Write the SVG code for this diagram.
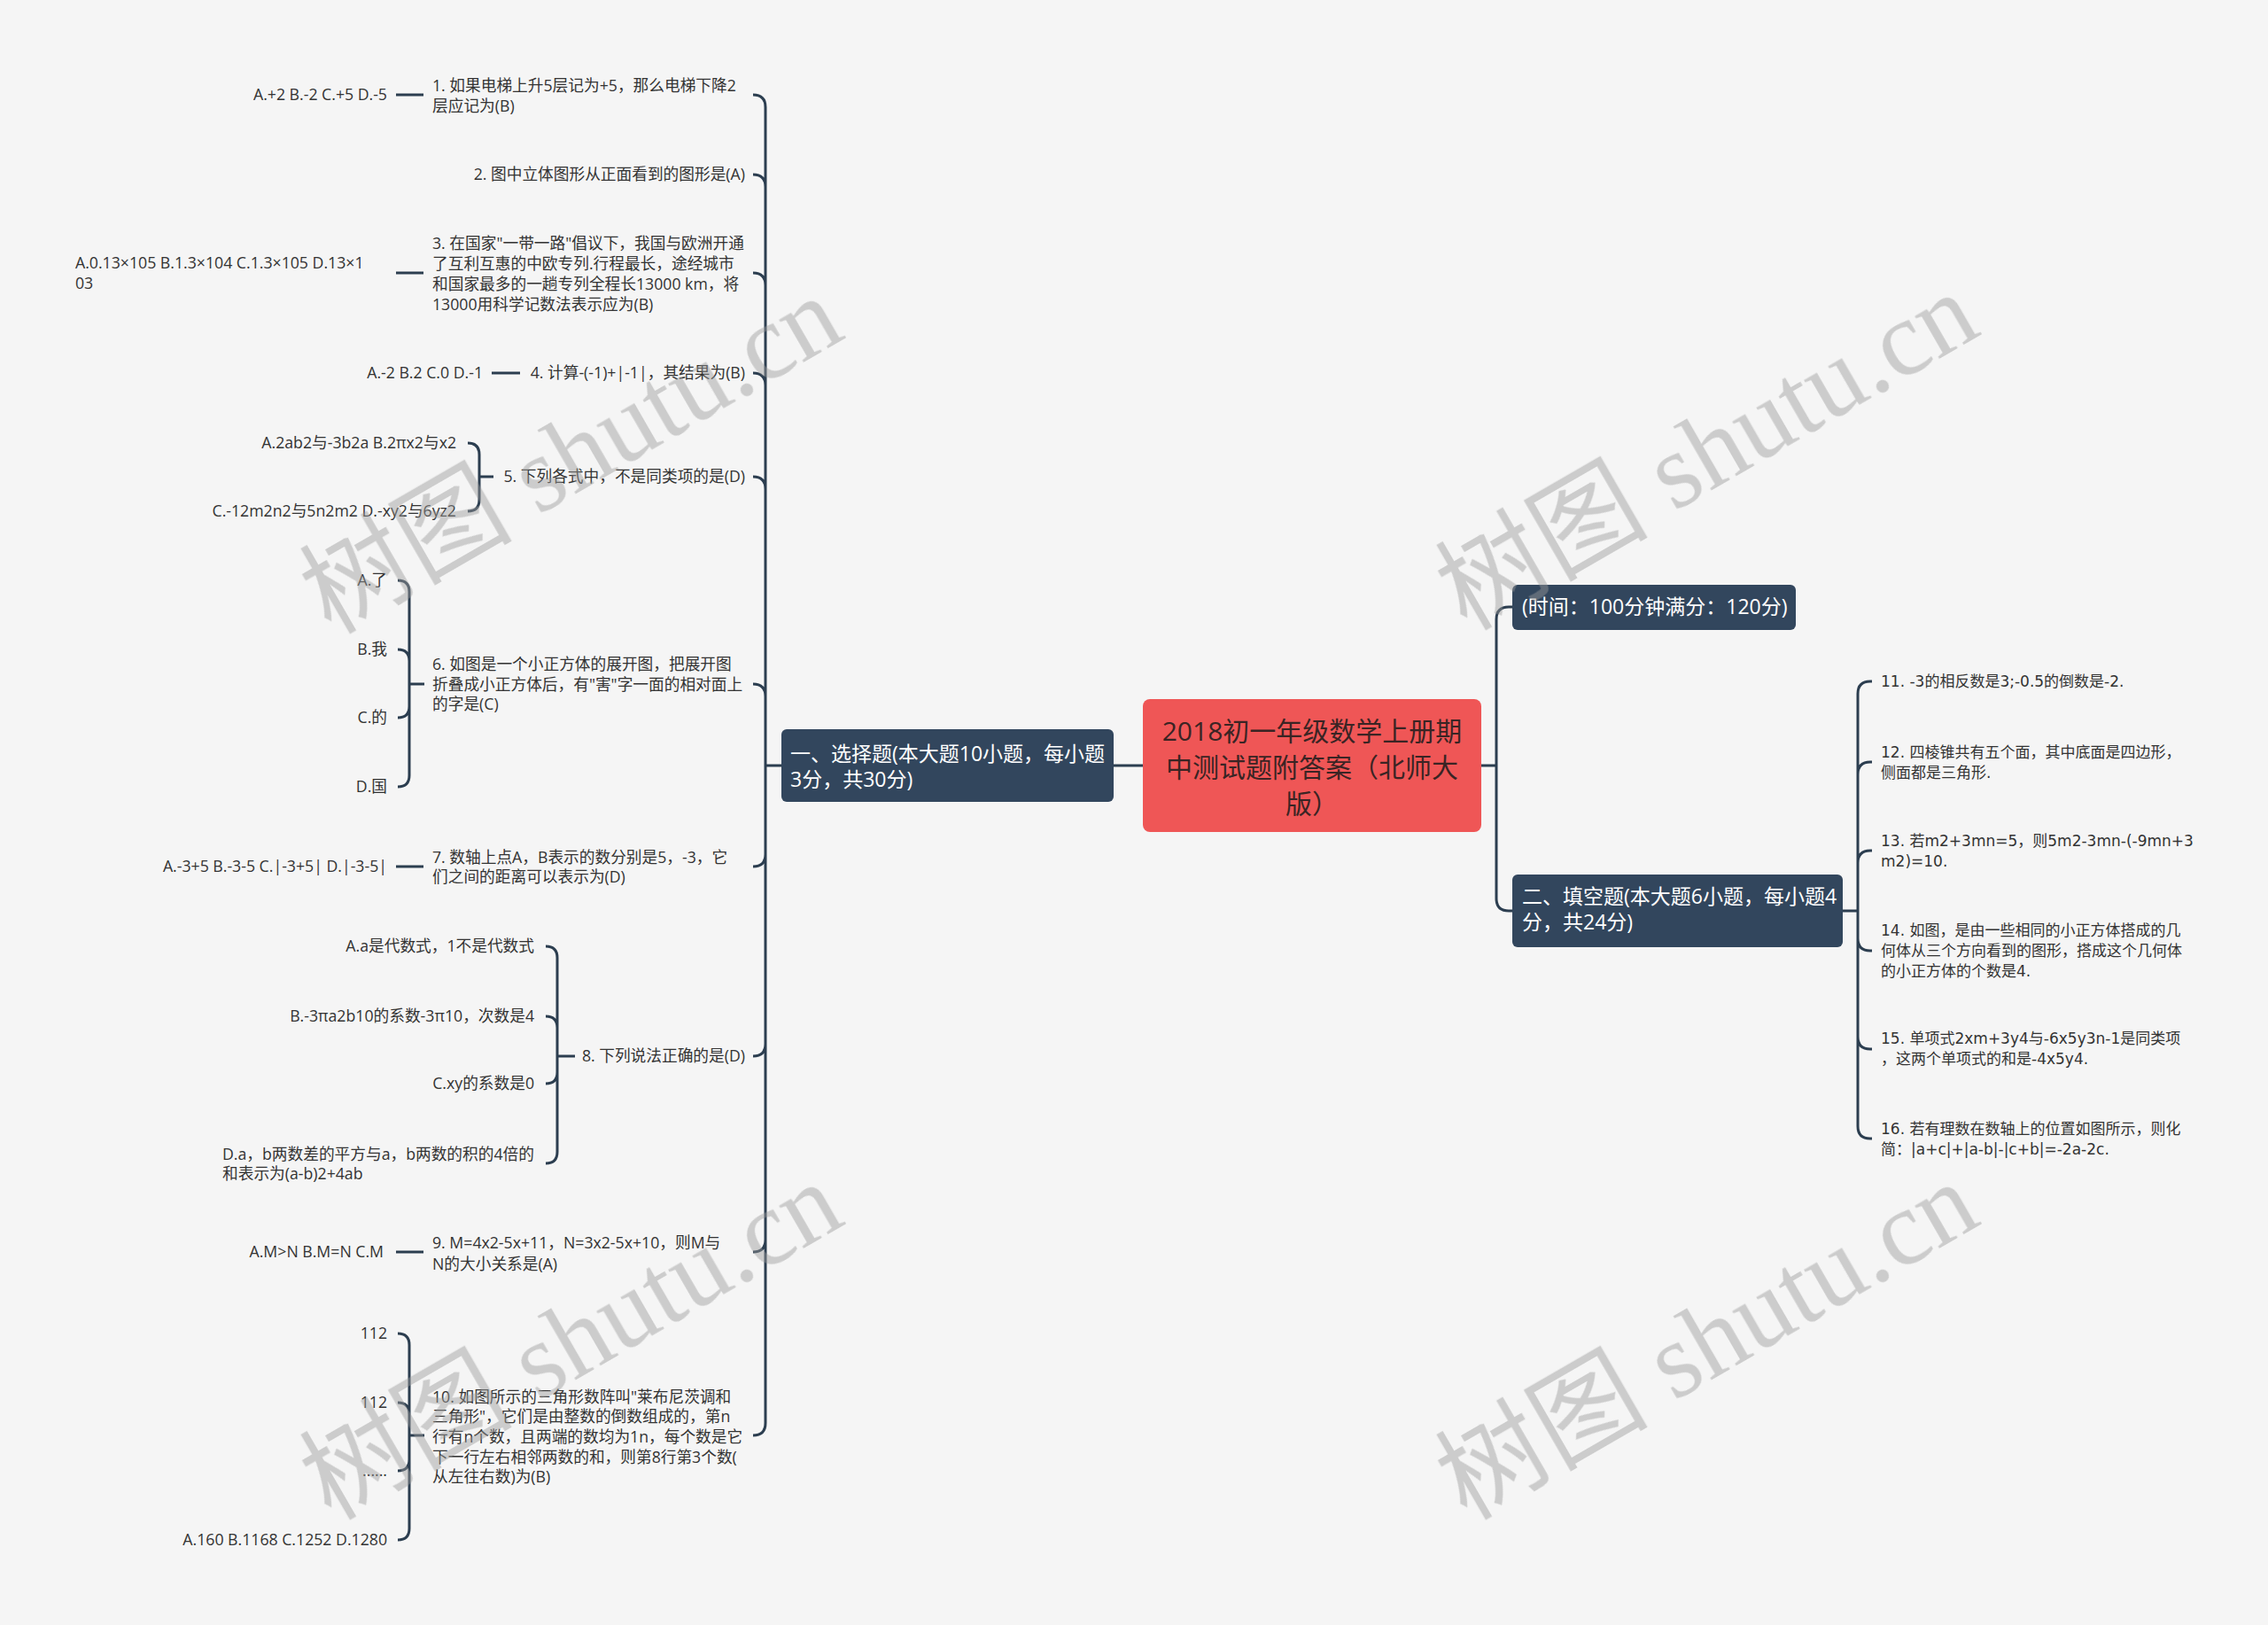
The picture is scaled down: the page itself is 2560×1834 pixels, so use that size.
<svg xmlns="http://www.w3.org/2000/svg" width="2560" height="1834" viewBox="0 0 2560 1834">
<style>
.lt{font-family:"Open Sans","Noto Sans CJK SC",sans-serif;font-size:17.7px;fill:#333}
.rt{font-family:"DejaVu Sans","Noto Sans CJK SC",sans-serif;font-size:17px;fill:#333}
.hd{font-family:"Open Sans","Noto Sans CJK SC",sans-serif;font-size:23px;fill:#fff}
.ct{font-family:"Open Sans","Noto Sans CJK SC",sans-serif;font-size:30px;fill:#3a2424;text-anchor:middle}
.e{text-anchor:end}
.dark{fill:#32465d}
.conn{fill:none;stroke:#2c3e50;stroke-width:3}
.wm{font-size:120px;fill:#9a9a9a;opacity:.45;text-anchor:middle}
.wc{font-family:"Noto Sans CJK SC",sans-serif}
.ws{font-family:"Liberation Serif",serif}
</style>
<rect width="2560" height="1834" fill="#f5f5f5"/>
<g id="connectors" class="conn">
<path d="M1290 864H1257M882 864H864"/>
<path d="M864 864V121Q864 107 850 107M864 864V211Q864 197 850 197M864 864V322Q864 308 850 308M864 864V435Q864 421 850 421M864 864V552Q864 538 850 538M864 864V786Q864 772 850 772M864 864V964Q864 978 850 978M864 864V1178Q864 1192 850 1192M864 864V1399Q864 1413 850 1413M864 864V1606Q864 1620 850 1620"/>
<path d="M447 107H478M447 308H478M555 421H587M447 978H478M447 1413H478"/>
<path d="M557 538H541M541 538V513Q541 500 528 500M541 538V564Q541 577 528 577"/>
<path d="M479 772H462M462 772V668Q462 655 449 655M462 772V746Q462 733 449 733M462 772V797Q462 810 449 810M462 772V875Q462 888 449 888"/>
<path d="M649 1192H629M629 1192V1081Q629 1068 616 1068M629 1192V1160Q629 1147 616 1147M629 1192V1210Q629 1223 616 1223M629 1192V1300Q629 1313 616 1313"/>
<path d="M479 1620H462M462 1620V1518Q462 1505 449 1505M462 1620V1596Q462 1583 449 1583M462 1620V1647Q462 1660 449 1660M462 1620V1725Q462 1738 449 1738"/>
<path d="M1672 864H1689M1689 864V699Q1689 685 1703 685H1707M1689 864V1014Q1689 1028 1703 1028H1707"/>
<path d="M2080 1028H2097M2097 1028V783Q2097 769 2111 769H2113M2097 1028V874Q2097 860 2111 860H2113M2097 1028V974Q2097 960 2111 960H2113M2097 1028V1059Q2097 1073 2111 1073H2113M2097 1028V1170Q2097 1184 2111 1184H2113M2097 1028V1271Q2097 1285 2111 1285H2113"/>
</g>
<g id="root">
<rect x="1290" y="789" width="382" height="150" rx="8" fill="#ef5656"/>
<text class="ct"><tspan x="1481" y="836">2018初一年级数学上册期</tspan><tspan x="1481" y="877">中测试题附答案（北师大</tspan><tspan x="1481" y="918">版）</tspan></text>
</g>
<g id="sec1">
<rect class="dark" x="882" y="823" width="375" height="82" rx="6"/>
<text class="hd"><tspan x="892" y="859">一、选择题(本大题10小题，每小题</tspan><tspan x="892" y="888">3分，共30分)</tspan></text>
</g>
<g id="time">
<rect class="dark" x="1707" y="660" width="320" height="51" rx="6"/>
<text class="hd" x="1718" y="693">(时间：100分钟满分：120分)</text>
</g>
<g id="sec2">
<rect class="dark" x="1707" y="987" width="373" height="82" rx="6"/>
<text class="hd"><tspan x="1718" y="1020">二、填空题(本大题6小题，每小题4</tspan><tspan x="1718" y="1049">分，共24分)</tspan></text>
</g>
<g id="q1"><text class="lt"><tspan x="488" y="103">1. 如果电梯上升5层记为+5，那么电梯下降2</tspan><tspan x="488" y="126">层应记为(B)</tspan></text></g>
<g id="q1a"><text class="lt e" x="437" y="113">A.+2 B.-2 C.+5 D.-5</text></g>
<g id="q2"><text class="lt e" x="841" y="203">2. 图中立体图形从正面看到的图形是(A)</text></g>
<g id="q3"><text class="lt"><tspan x="488" y="281">3. 在国家"一带一路"倡议下，我国与欧洲开通</tspan><tspan x="488" y="304">了互利互惠的中欧专列.行程最长，途经城市</tspan><tspan x="488" y="327">和国家最多的一趟专列全程长13000 km，将</tspan><tspan x="488" y="350">13000用科学记数法表示应为(B)</tspan></text></g>
<g id="q3a"><text class="lt"><tspan x="85" y="303">A.0.13×105 B.1.3×104 C.1.3×105 D.13×1</tspan><tspan x="85" y="326">03</tspan></text></g>
<g id="q4"><text class="lt e" x="841" y="427">4. 计算-(-1)+|-1|，其结果为(B)</text></g>
<g id="q4a"><text class="lt e" x="545" y="427">A.-2 B.2 C.0 D.-1</text></g>
<g id="q5"><text class="lt e" x="841" y="544">5. 下列各式中，不是同类项的是(D)</text></g>
<g id="q5a"><text class="lt e" x="515" y="506">A.2ab2与-3b2a B.2πx2与x2</text></g>
<g id="q5b"><text class="lt e" x="515" y="583">C.-12m2n2与5n2m2 D.-xy2与6yz2</text></g>
<g id="q6"><text class="lt"><tspan x="488" y="756">6. 如图是一个小正方体的展开图，把展开图</tspan><tspan x="488" y="779">折叠成小正方体后，有"害"字一面的相对面上</tspan><tspan x="488" y="801">的字是(C)</tspan></text></g>
<g id="q6a"><text class="lt e" x="437" y="661">A.了</text></g>
<g id="q6b"><text class="lt e" x="437" y="739">B.我</text></g>
<g id="q6c"><text class="lt e" x="437" y="816">C.的</text></g>
<g id="q6d"><text class="lt e" x="437" y="894">D.国</text></g>
<g id="q7"><text class="lt"><tspan x="488" y="974">7. 数轴上点A，B表示的数分别是5，-3，它</tspan><tspan x="488" y="996">们之间的距离可以表示为(D)</tspan></text></g>
<g id="q7a"><text class="lt e" x="437" y="984">A.-3+5 B.-3-5 C.|-3+5| D.|-3-5|</text></g>
<g id="q8"><text class="lt e" x="841" y="1198">8. 下列说法正确的是(D)</text></g>
<g id="q8a"><text class="lt e" x="603" y="1074">A.a是代数式，1不是代数式</text></g>
<g id="q8b"><text class="lt e" x="603" y="1153">B.-3πa2b10的系数-3π10，次数是4</text></g>
<g id="q8c"><text class="lt e" x="603" y="1229">C.xy的系数是0</text></g>
<g id="q8d"><text class="lt"><tspan x="251" y="1309">D.a，b两数差的平方与a，b两数的积的4倍的</tspan><tspan x="251" y="1331">和表示为(a-b)2+4ab</tspan></text></g>
<g id="q9"><text class="lt"><tspan x="488" y="1409">9. M=4x2-5x+11，N=3x2-5x+10，则M与</tspan><tspan x="488" y="1433">N的大小关系是(A)</tspan></text></g>
<g id="q9a"><text class="lt e" x="433" y="1419">A.M&gt;N B.M=N C.M</text></g>
<g id="q10"><text class="lt"><tspan x="488" y="1583">10. 如图所示的三角形数阵叫"莱布尼茨调和</tspan><tspan x="488" y="1605">三角形"，它们是由整数的倒数组成的，第n</tspan><tspan x="488" y="1628">行有n个数，且两端的数均为1n，每个数是它</tspan><tspan x="488" y="1651">下一行左右相邻两数的和，则第8行第3个数(</tspan><tspan x="488" y="1673">从左往右数)为(B)</tspan></text></g>
<g id="q10a"><text class="lt e" x="437" y="1511">112</text></g>
<g id="q10b"><text class="lt e" x="437" y="1589">112</text></g>
<g id="q10c"><text class="lt e" x="437" y="1666">......</text></g>
<g id="q10d"><text class="lt e" x="437" y="1744">A.160 B.1168 C.1252 D.1280</text></g>
<g id="f11"><text class="rt" x="2123" y="775">11. -3的相反数是3;-0.5的倒数是-2.</text></g>
<g id="f12"><text class="rt"><tspan x="2123" y="855">12. 四棱锥共有五个面，其中底面是四边形，</tspan><tspan x="2123" y="878">侧面都是三角形.</tspan></text></g>
<g id="f13"><text class="rt"><tspan x="2123" y="955">13. 若m2+3mn=5，则5m2-3mn-(-9mn+3</tspan><tspan x="2123" y="978">m2)=10.</tspan></text></g>
<g id="f14"><text class="rt"><tspan x="2123" y="1056">14. 如图，是由一些相同的小正方体搭成的几</tspan><tspan x="2123" y="1079">何体从三个方向看到的图形，搭成这个几何体</tspan><tspan x="2123" y="1102">的小正方体的个数是4.</tspan></text></g>
<g id="f15"><text class="rt"><tspan x="2123" y="1178">15. 单项式2xm+3y4与-6x5y3n-1是同类项</tspan><tspan x="2123" y="1201">，这两个单项式的和是-4x5y4.</tspan></text></g>
<g id="f16"><text class="rt"><tspan x="2123" y="1280">16. 若有理数在数轴上的位置如图所示，则化</tspan><tspan x="2123" y="1303">简：|a+c|+|a-b|-|c+b|=-2a-2c.</tspan></text></g>
<g id="watermarks" class="wm">
<text transform="translate(645,514) rotate(-30)" y="40"><tspan class="wc">树图</tspan><tspan class="ws"> shutu.cn</tspan></text>
<text transform="translate(1927,510) rotate(-30)" y="40"><tspan class="wc">树图</tspan><tspan class="ws"> shutu.cn</tspan></text>
<text transform="translate(645,1514) rotate(-30)" y="40"><tspan class="wc">树图</tspan><tspan class="ws"> shutu.cn</tspan></text>
<text transform="translate(1927,1514) rotate(-30)" y="40"><tspan class="wc">树图</tspan><tspan class="ws"> shutu.cn</tspan></text>
</g>
</svg>
